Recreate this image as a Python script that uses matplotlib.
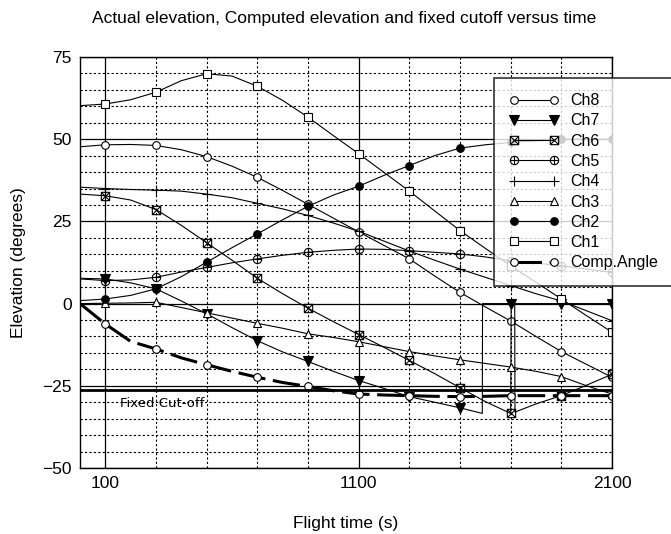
import matplotlib
matplotlib.use("Agg")
import matplotlib.pyplot as plt
import numpy as np
from matplotlib.path import Path

plt.rcParams["font.family"] = ["Liberation Sans", "DejaVu Sans"]

# time axis (s), readings every 100 s
t = [0, 100, 200, 300, 400, 500, 600, 700, 800, 900, 1000,
     1100, 1200, 1300, 1400, 1500, 1600, 1700, 1800, 1900, 2000, 2100]

ch1 = [60.2, 60.7, 62.0, 64.3, 67.8, 69.9, 69.2, 66.1, 61.8, 56.7, 51.1,
       45.6, 39.9, 34.2, 28.2, 22.2, 16.8, 11.5, 6.5, 1.4, -3.7, -8.7]
ch2 = [0.9, 1.4, 2.5, 4.5, 8.2, 12.6, 17.0, 21.2, 25.5, 29.6, 33.0,
       35.7, 39.0, 42.0, 45.0, 47.3, 48.3, 49.0, 49.5, 50.0, 50.0, 50.0]
ch3 = [0.0, 0.1, 0.2, 0.4, -1.2, -2.8, -4.4, -6.0, -7.5, -9.2, -10.3,
       -11.6, -13.1, -14.6, -15.9, -17.1, -18.2, -19.3, -20.6, -22.2, -25.0, -27.5]
ch4 = [35.4, 35.0, 34.7, 34.5, 34.2, 33.3, 32.2, 30.5, 28.8, 26.8, 24.5,
       22.0, 19.0, 16.0, 13.2, 10.5, 8.0, 5.5, 3.0, 0.8, -2.2, -5.2]
ch5 = [7.5, 7.0, 7.2, 8.0, 9.6, 11.0, 12.4, 13.6, 14.7, 15.6, 16.2,
       16.6, 16.5, 16.1, 15.6, 15.1, 14.2, 13.0, 12.3, 11.5, 10.5, 9.5]
ch8 = [47.7, 48.3, 48.4, 48.1, 46.8, 44.7, 41.8, 38.4, 34.4, 30.2, 26.0,
       21.8, 17.7, 13.6, 8.4, 3.4, -1.0, -5.3, -10.0, -14.6, -18.5, -22.4]
comp = [0.0, -6.2, -11.5, -13.8, -16.5, -18.6, -20.6, -22.4, -24.0, -25.2, -26.5,
        -27.5, -27.8, -28.0, -28.2, -28.3, -28.2, -28.0, -28.0, -28.0, -28.0, -28.0]

# channels with lock-loss jumps have their own time bases
t6 = [0, 100, 200, 300, 400, 500, 600, 700, 800, 900, 1000, 1100, 1200, 1300,
      1400, 1500, 1600, 1700, 1702, 1716, 1717, 1800, 1900, 2000, 2100]
ch6 = [33.3, 32.8, 31.5, 28.6, 23.8, 18.5, 13.2, 7.7, 3.0, -1.4, -5.5, -9.4, -13.3,
       -17.3, -21.3, -25.6, -29.8, -33.4, 0.0, 0.0, -33.0, -30.5, -28.0, -24.8, -21.5]
t7 = [0, 100, 200, 300, 400, 500, 600, 700, 800, 900, 1000, 1100, 1200, 1300,
      1400, 1500, 1588, 1589, 1700, 1800, 1900, 2000, 2100]
ch7 = [7.7, 7.5, 6.3, 4.5, 0.8, -3.1, -7.3, -11.3, -14.7, -17.6, -20.6, -23.4, -25.8,
       -28.3, -30.0, -31.7, -33.4, 0.0, 0.0, 0.0, 0.0, 0.0, 0.0]

cutoff = -26.3
marker_times = [100, 300, 500, 700, 900, 1100, 1300, 1500, 1700, 1900, 2100]

# square with an X inside, circle with a plus inside
sq_x = Path([(-1, -1), (1, -1), (1, 1), (-1, 1), (-1, -1), (-1, -1), (1, 1), (-1, 1), (1, -1)],
            [Path.MOVETO, Path.LINETO, Path.LINETO, Path.LINETO, Path.LINETO,
             Path.MOVETO, Path.LINETO, Path.MOVETO, Path.LINETO])
circ_plus = Path.make_compound_path(
    Path.unit_circle(),
    Path([(-1, 0), (1, 0), (0, -1), (0, 1)], [Path.MOVETO, Path.LINETO, Path.MOVETO, Path.LINETO]))

fig = plt.figure(figsize=(6.71, 5.34), dpi=100)
ax = fig.add_axes([80 / 671, 66 / 534, 532 / 671, 411 / 534])
ax.set_xlim(0, 2100)
ax.set_ylim(-50, 75)

ax.set_yticks(np.arange(-50, 76, 25))
ax.set_yticks(np.arange(-50, 76, 5), minor=True)
ax.set_xticks([100, 1100, 2100])
ax.set_xticks(np.arange(300, 2100, 200), minor=True)
ax.grid(which="major", color="black", lw=0.9, ls="-")
ax.grid(which="minor", color="black", lw=0.8, ls=(0, (2, 2)))
ax.set_axisbelow(True)
ax.tick_params(which="both", length=0, labelsize=12.5, pad=6)
for s in ax.spines.values():
    s.set_linewidth(1.0)


def marks(times):
    return [i for i, x in enumerate(times) if x in marker_times]


lw = 0.8
ms = 5.5
series = [
    ("Ch8", t, ch8, dict(marker="o", mfc="white")),
    ("Ch7", t7, ch7, dict(marker="v", mfc="black", ms=6.5)),
    ("Ch6", t6, ch6, dict(marker=sq_x, mfc="none", ms=6)),
    ("Ch5", t, ch5, dict(marker=circ_plus, mfc="none", ms=6)),
    ("Ch4", t, ch4, dict(marker="+", mfc="black", ms=7)),
    ("Ch3", t, ch3, dict(marker="^", mfc="white")),
    ("Ch2", t, ch2, dict(marker="o", mfc="black")),
    ("Ch1", t, ch1, dict(marker="s", mfc="white")),
]
handles = []
for name, tt, vv, st in series:
    kw = dict(ms=ms, mew=0.8)
    kw.update(st)
    h, = ax.plot(tt, vv, color="black", lw=lw, mec="black",
                 markevery=marks(tt), label=name, **kw)
    handles.append(h)

h, = ax.plot(t, comp, color="black", lw=2.2, ls=(0, (9, 2.5)), marker="o",
             mfc="white", mec="black", mew=0.8, ms=ms, markevery=marks(t),
             label="Comp.Angle")
handles.append(h)

ax.axhline(cutoff, color="black", lw=2.0)
ax.text(158, -30.4, "Fixed Cut-off", fontsize=9.5, va="center", ha="left",
        family=["DejaVu Sans"])

ax.set_xlabel("Flight time (s)", fontsize=12.5, labelpad=18)
ax.set_ylabel("Elevation (degrees)", fontsize=12.5, labelpad=12)
fig.text(344 / 671, 1 - 18 / 534, "Actual elevation, Computed elevation and fixed cutoff versus time",
         ha="center", va="center", fontsize=12.5)

leg = fig.legend(handles=handles, loc="upper left",
                 bbox_to_anchor=(494 / 671, 1 - 78 / 534), numpoints=2,
                 handlelength=3.1, fontsize=11.5, frameon=True, fancybox=False,
                 borderpad=0.95, labelspacing=0.33, handletextpad=0.7,
                 borderaxespad=0)
leg.get_frame().set_edgecolor("black")
leg.get_frame().set_linewidth(1.2)

fig.savefig("out.png", dpi=100)
